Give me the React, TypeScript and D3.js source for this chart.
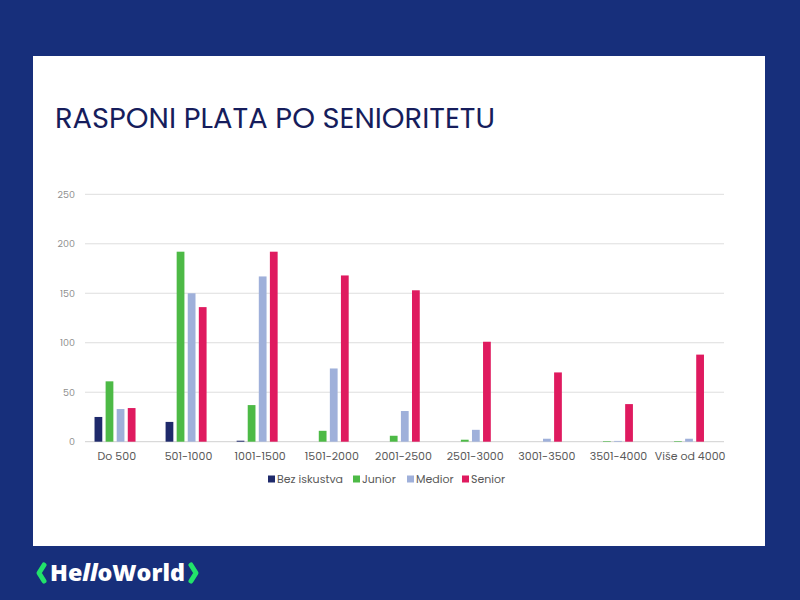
import React from "react";
import * as d3 from "d3";

const categories = ["Do 500", "501-1000", "1001-1500", "1501-2000", "2001-2500", "2501-3000", "3001-3500", "3501-4000", "Više od 4000"];
const seriesNames = ["Bez iskustva", "Junior", "Medior", "Senior"];
const bezIskustva = [25, 20, 1, 0, 0, 0, 0, 0, 0];
const junior = [61, 192, 37, 11, 6, 2, 0, 0.6, 0.6];
const medior = [33, 150, 167, 74, 31, 12, 3, 0.8, 3];
const senior = [34, 136, 192, 168, 153, 101, 70, 38, 88];
const yTicks = [0, 50, 100, 150, 200, 250];
const colors = ["#1f2a6b", "#4dba46", "#9fb0da", "#df1a5f"];

const values = [bezIskustva, junior, medior, senior];

export default function App() {
  const W = 800, H = 600;
  const x = d3.scaleBand<string>().domain(categories).range([79.5, 719]).padding(0);
  const xl = d3.scaleBand<string>().domain(categories).range([81, 726]).padding(0);
  const xi = d3.scaleBand<string>().domain(seriesNames).range([-20.5, 20.5]).paddingInner(0.3).paddingOuter(0);
  const y = d3.scaleLinear().domain([0, 250]).range([441.7, 194.3]);
  const font = "Poppins, 'Open Sans', 'Noto Sans', sans-serif";

  const legendX = [268, 353, 407, 462];

  return (
    <svg width={W} height={H} style={{ position: "absolute", left: 0, top: 0 }} xmlns="http://www.w3.org/2000/svg">
      <rect x={0} y={0} width={W} height={H} fill="#172f7b" />
      <rect x={33} y={56} width={732} height={490} fill="#ffffff" />
      <text x={55} y={128} fontFamily={font} fontSize={28} fill="#161d5c" textLength={440} lengthAdjust="spacingAndGlyphs">
        RASPONI PLATA PO SENIORITETU
      </text>
      {yTicks.map((t) => (
        <g key={t}>
          <line x1={85} x2={724} y1={y(t)} y2={y(t)} stroke={t === 0 ? "#d0d0d0" : "#dedede"} strokeWidth={1} />
          <text x={75} y={y(t) + 3.5} textAnchor="end" fontFamily={font} fontSize={9.5} fill="#8f8f8f">
            {t}
          </text>
        </g>
      ))}
      {categories.map((c, i) => (
        <g key={c}>
          {seriesNames.map((s, j) => {
            const v = values[j][i];
            if (v <= 0) return null;
            const x0 = (x(c) as number) + x.bandwidth() / 2 + (xi(s) as number);
            return (
              <rect key={s} x={x0} y={y(v)} width={xi.bandwidth()} height={y(0) - y(v)} fill={colors[j]} />
            );
          })}
          <text x={(xl(c) as number) + xl.bandwidth() / 2} y={460} textAnchor="middle" fontFamily={font} fontSize={11} fill="#595959">
            {c}
          </text>
        </g>
      ))}
      {seriesNames.map((s, j) => (
        <g key={s}>
          <rect x={legendX[j]} y={475.5} width={7} height={7} fill={colors[j]} />
          <text x={legendX[j] + 9} y={483} fontFamily={font} fontSize={11} fill="#595959">
            {s}
          </text>
        </g>
      ))}
      <polyline points="44,565 39,573 44,581" fill="none" stroke="#22e36a" strokeWidth={5} strokeLinejoin="round" strokeLinecap="round" />
      <polyline points="191,565 196,573 191,581" fill="none" stroke="#22e36a" strokeWidth={5} strokeLinejoin="round" strokeLinecap="round" />
      <text x={50} y={581} fontFamily="'Open Sans', Lato, sans-serif" fontWeight={800} fontSize={22} fill="#ffffff" textLength={135} lengthAdjust="spacingAndGlyphs">
        He<tspan fontStyle="italic">ll</tspan>oWorld
      </text>
    </svg>
  );
}
